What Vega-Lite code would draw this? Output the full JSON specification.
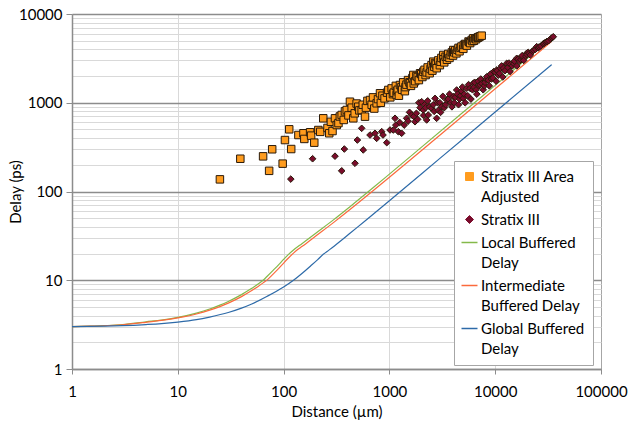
{
  "$schema": "https://vega.github.io/schema/vega-lite/v6.json",
  "width": 529,
  "height": 355,
  "autosize": {"type": "none"},
  "padding": {"left": 72, "top": 14, "right": 28, "bottom": 53},
  "background": "white",
  "config": {"font": "Lato", "view": {"stroke": null}},
  "datasets": {
    "lines": [
      {"s":"lb","x":1,"y":3.0},{"s":"lb","x":1.5,"y":3.04},{"s":"lb","x":2,"y":3.08},{"s":"lb","x":3,"y":3.16},{"s":"lb","x":5,"y":3.4},{"s":"lb","x":7,"y":3.56},{"s":"lb","x":10,"y":3.82},{"s":"lb","x":15,"y":4.27},{"s":"lb","x":20,"y":4.74},{"s":"lb","x":25,"y":5.24},{"s":"lb","x":30,"y":5.77},{"s":"lb","x":40,"y":6.89},{"s":"lb","x":50,"y":8.11},{"s":"lb","x":57,"y":9.0},{"s":"lb","x":64,"y":10},{"s":"lb","x":70,"y":11.1},{"s":"lb","x":80,"y":13.0},{"s":"lb","x":90,"y":15.0},{"s":"lb","x":100,"y":17.2},{"s":"lb","x":110,"y":19.3},{"s":"lb","x":124,"y":21.9},{"s":"lb","x":150,"y":26.0},{"s":"lb","x":200,"y":33.7},{"s":"lb","x":300,"y":48.5},{"s":"lb","x":424,"y":67.4},{"s":"lb","x":700,"y":110},{"s":"lb","x":1000,"y":157},{"s":"lb","x":2000,"y":314},{"s":"lb","x":5000,"y":785},{"s":"lb","x":10000,"y":1570},{"s":"lb","x":20000,"y":3140},{"s":"lb","x":34000,"y":5340},
      {"s":"ib","x":1,"y":3.0},{"s":"ib","x":1.5,"y":3.04},{"s":"ib","x":2,"y":3.07},{"s":"ib","x":3,"y":3.15},{"s":"ib","x":5,"y":3.36},{"s":"ib","x":7,"y":3.53},{"s":"ib","x":10,"y":3.77},{"s":"ib","x":15,"y":4.17},{"s":"ib","x":20,"y":4.6},{"s":"ib","x":25,"y":5.05},{"s":"ib","x":30,"y":5.53},{"s":"ib","x":40,"y":6.54},{"s":"ib","x":50,"y":7.65},{"s":"ib","x":57,"y":8.47},{"s":"ib","x":64,"y":9.34},{"s":"ib","x":70,"y":10.1},{"s":"ib","x":80,"y":11.8},{"s":"ib","x":90,"y":13.6},{"s":"ib","x":100,"y":15.6},{"s":"ib","x":110,"y":17.6},{"s":"ib","x":124,"y":20.2},{"s":"ib","x":134,"y":21.9},{"s":"ib","x":150,"y":24.1},{"s":"ib","x":200,"y":31.3},{"s":"ib","x":300,"y":45.2},{"s":"ib","x":424,"y":62.6},{"s":"ib","x":700,"y":101.8},{"s":"ib","x":1000,"y":145},{"s":"ib","x":2000,"y":288},{"s":"ib","x":5000,"y":718},{"s":"ib","x":10000,"y":1437},{"s":"ib","x":20000,"y":2874},{"s":"ib","x":34000,"y":4886},
      {"s":"gb","x":1,"y":3.0},{"s":"gb","x":2,"y":3.04},{"s":"gb","x":3,"y":3.08},{"s":"gb","x":5,"y":3.17},{"s":"gb","x":7,"y":3.25},{"s":"gb","x":10,"y":3.38},{"s":"gb","x":15,"y":3.6},{"s":"gb","x":20,"y":3.85},{"s":"gb","x":30,"y":4.33},{"s":"gb","x":40,"y":4.85},{"s":"gb","x":50,"y":5.4},{"s":"gb","x":70,"y":6.6},{"s":"gb","x":100,"y":8.4},{"s":"gb","x":124,"y":10},{"s":"gb","x":150,"y":12.0},{"s":"gb","x":180,"y":14.5},{"s":"gb","x":210,"y":17.1},{"s":"gb","x":237,"y":19.6},{"s":"gb","x":270,"y":22.0},{"s":"gb","x":300,"y":24.2},{"s":"gb","x":350,"y":28.0},{"s":"gb","x":424,"y":33.8},{"s":"gb","x":600,"y":47.5},{"s":"gb","x":1000,"y":78.6},{"s":"gb","x":3000,"y":236},{"s":"gb","x":10000,"y":786},{"s":"gb","x":34200,"y":2690}
    ],
    "points": [
      {"s":"sq","x":25,"y":137},{"s":"sq","x":39,"y":234},{"s":"sq","x":64,"y":249},{"s":"sq","x":73,"y":171},{"s":"sq","x":78,"y":299},{"s":"sq","x":98,"y":206},{"s":"sq","x":103,"y":380},{"s":"sq","x":113,"y":502},{"s":"sq","x":118,"y":301},{"s":"sq","x":138,"y":433},{"s":"sq","x":154,"y":453},{"s":"sq","x":157,"y":391},{"s":"sq","x":178,"y":465},{"s":"sq","x":182,"y":426},{"s":"sq","x":195,"y":355},{"s":"sq","x":213,"y":493},{"s":"sq","x":222,"y":470},{"s":"sq","x":237,"y":668},{"s":"sq","x":260,"y":520},{"s":"sq","x":270,"y":453},{"s":"sq","x":280,"y":610},{"s":"sq","x":290,"y":480},{"s":"sq","x":306,"y":668},{"s":"sq","x":318,"y":561},{"s":"sq","x":330,"y":590},{"s":"sq","x":340,"y":700},{"s":"sq","x":354,"y":728},{"s":"sq","x":370,"y":640},{"s":"sq","x":380,"y":800},{"s":"sq","x":395,"y":828},{"s":"sq","x":410,"y":720},{"s":"sq","x":424,"y":1027},{"s":"sq","x":440,"y":880},{"s":"sq","x":456,"y":668},{"s":"sq","x":470,"y":760},{"s":"sq","x":490,"y":980},{"s":"sq","x":508,"y":902},{"s":"sq","x":520,"y":820},{"s":"sq","x":547,"y":828},{"s":"sq","x":560,"y":950},{"s":"sq","x":588,"y":697},{"s":"sq","x":600,"y":880},{"s":"sq","x":620,"y":1050},{"s":"sq","x":656,"y":1074},{"s":"sq","x":680,"y":950},{"s":"sq","x":700,"y":1150},{"s":"sq","x":720,"y":860},{"s":"sq","x":758,"y":986},{"s":"sq","x":780,"y":1100},{"s":"sq","x":815,"y":1279},{"s":"sq","x":830,"y":1000},{"s":"sq","x":860,"y":1200},{"s":"sq","x":900,"y":1120},{"s":"sq","x":950,"y":1300},{"s":"sq","x":977,"y":1393},{"s":"sq","x":1020,"y":1150},{"s":"sq","x":1050,"y":1450},{"s":"sq","x":1080,"y":1250},{"s":"sq","x":1100,"y":1300},{"s":"sq","x":1150,"y":1550},{"s":"sq","x":1172,"y":1222},{"s":"sq","x":1180,"y":1350},{"s":"sq","x":1200,"y":1400},{"s":"sq","x":1230,"y":1200},{"s":"sq","x":1259,"y":1585},{"s":"sq","x":1300,"y":1500},{"s":"sq","x":1320,"y":1400},{"s":"sq","x":1350,"y":1700},{"s":"sq","x":1400,"y":1350},{"s":"sq","x":1420,"y":1500},{"s":"sq","x":1450,"y":1600},{"s":"sq","x":1500,"y":1800},{"s":"sq","x":1550,"y":1700},{"s":"sq","x":1566,"y":1656},{"s":"sq","x":1600,"y":1550},{"s":"sq","x":1650,"y":1900},{"s":"sq","x":1683,"y":2056},{"s":"sq","x":1700,"y":1650},{"s":"sq","x":1750,"y":1750},{"s":"sq","x":1800,"y":2000},{"s":"sq","x":1850,"y":1950},{"s":"sq","x":1900,"y":1800},{"s":"sq","x":1950,"y":2150},{"s":"sq","x":2000,"y":2100},{"s":"sq","x":2050,"y":1950},{"s":"sq","x":2091,"y":2240},{"s":"sq","x":2150,"y":2350},{"s":"sq","x":2200,"y":2050},{"s":"sq","x":2250,"y":2200},{"s":"sq","x":2300,"y":2500},{"s":"sq","x":2400,"y":2150},{"s":"sq","x":2450,"y":2400},{"s":"sq","x":2500,"y":2650},{"s":"sq","x":2550,"y":2300},{"s":"sq","x":2600,"y":2904},{"s":"sq","x":2650,"y":2550},{"s":"sq","x":2700,"y":2800},{"s":"sq","x":2750,"y":2700},{"s":"sq","x":2800,"y":2450},{"s":"sq","x":2900,"y":3000},{"s":"sq","x":3000,"y":2650},{"s":"sq","x":3050,"y":2900},{"s":"sq","x":3100,"y":3200},{"s":"sq","x":3230,"y":3453},{"s":"sq","x":3250,"y":3100},{"s":"sq","x":3300,"y":2850},{"s":"sq","x":3400,"y":3300},{"s":"sq","x":3500,"y":3050},{"s":"sq","x":3550,"y":3300},{"s":"sq","x":3600,"y":3550},{"s":"sq","x":3700,"y":3200},{"s":"sq","x":3800,"y":3450},{"s":"sq","x":3900,"y":3700},{"s":"sq","x":4000,"y":3400},{"s":"sq","x":4017,"y":3928},{"s":"sq","x":4100,"y":3700},{"s":"sq","x":4200,"y":3900},{"s":"sq","x":4300,"y":3600},{"s":"sq","x":4400,"y":3950},{"s":"sq","x":4500,"y":4150},{"s":"sq","x":4600,"y":3800},{"s":"sq","x":4700,"y":4150},{"s":"sq","x":4800,"y":4300},{"s":"sq","x":5000,"y":4050},{"s":"sq","x":5050,"y":4475},{"s":"sq","x":5200,"y":4600},{"s":"sq","x":5300,"y":4500},{"s":"sq","x":5400,"y":4400},{"s":"sq","x":5600,"y":4900},{"s":"sq","x":5700,"y":4800},{"s":"sq","x":5800,"y":4700},{"s":"sq","x":6000,"y":5100},{"s":"sq","x":6100,"y":4950},{"s":"sq","x":6212,"y":5322},{"s":"sq","x":6300,"y":5000},{"s":"sq","x":6500,"y":5300},{"s":"sq","x":6600,"y":5200},{"s":"sq","x":6800,"y":5400},{"s":"sq","x":6900,"y":5450},{"s":"sq","x":7000,"y":5500},{"s":"sq","x":7200,"y":5600},{"s":"sq","x":7450,"y":5700},
      {"s":"di","x":117,"y":138},{"s":"di","x":188,"y":234},{"s":"di","x":306,"y":250},{"s":"di","x":354,"y":171},{"s":"di","x":375,"y":301},{"s":"di","x":473,"y":208},{"s":"di","x":498,"y":380},{"s":"di","x":547,"y":515},{"s":"di","x":566,"y":294},{"s":"di","x":656,"y":433},{"s":"di","x":731,"y":453},{"s":"di","x":758,"y":397},{"s":"di","x":846,"y":472},{"s":"di","x":870,"y":433},{"s":"di","x":944,"y":355},{"s":"di","x":1014,"y":493},{"s":"di","x":1090,"y":493},{"s":"di","x":1130,"y":668},{"s":"di","x":1150,"y":560},{"s":"di","x":1214,"y":472},{"s":"di","x":1250,"y":600},{"s":"di","x":1306,"y":453},{"s":"di","x":1380,"y":560},{"s":"di","x":1456,"y":668},{"s":"di","x":1500,"y":620},{"s":"di","x":1550,"y":780},{"s":"di","x":1624,"y":728},{"s":"di","x":1700,"y":700},{"s":"di","x":1746,"y":611},{"s":"di","x":1800,"y":760},{"s":"di","x":1850,"y":650},{"s":"di","x":1900,"y":1000},{"s":"di","x":1950,"y":880},{"s":"di","x":2018,"y":1027},{"s":"di","x":2091,"y":828},{"s":"di","x":2100,"y":720},{"s":"di","x":2150,"y":950},{"s":"di","x":2200,"y":880},{"s":"di","x":2250,"y":640},{"s":"di","x":2300,"y":1050},{"s":"di","x":2328,"y":728},{"s":"di","x":2400,"y":900},{"s":"di","x":2506,"y":865},{"s":"di","x":2600,"y":950},{"s":"di","x":2650,"y":800},{"s":"di","x":2700,"y":1120},{"s":"di","x":2797,"y":668},{"s":"di","x":2850,"y":1000},{"s":"di","x":2900,"y":820},{"s":"di","x":3000,"y":1000},{"s":"di","x":3050,"y":780},{"s":"di","x":3120,"y":902},{"s":"di","x":3200,"y":1180},{"s":"di","x":3300,"y":880},{"s":"di","x":3400,"y":950},{"s":"di","x":3477,"y":1074},{"s":"di","x":3600,"y":1100},{"s":"di","x":3700,"y":1250},{"s":"di","x":3800,"y":1000},{"s":"di","x":3900,"y":900},{"s":"di","x":4017,"y":1172},{"s":"di","x":4100,"y":1000},{"s":"di","x":4200,"y":1150},{"s":"di","x":4325,"y":1393},{"s":"di","x":4400,"y":1250},{"s":"di","x":4500,"y":950},{"s":"di","x":4600,"y":1100},{"s":"di","x":4700,"y":1200},{"s":"di","x":4800,"y":1350},{"s":"di","x":4900,"y":1500},{"s":"di","x":5000,"y":1122},{"s":"di","x":5100,"y":1250},{"s":"di","x":5200,"y":1000},{"s":"di","x":5383,"y":1455},{"s":"di","x":5500,"y":1200},{"s":"di","x":5600,"y":1600},{"s":"di","x":5800,"y":1450},{"s":"di","x":5900,"y":1100},{"s":"di","x":6100,"y":1400},{"s":"di","x":6212,"y":1656},{"s":"di","x":6300,"y":1500},{"s":"di","x":6400,"y":1700},{"s":"di","x":6600,"y":1400},{"s":"di","x":6700,"y":1250},{"s":"di","x":6900,"y":1750},{"s":"di","x":7000,"y":1550},{"s":"di","x":7180,"y":1585},{"s":"di","x":7300,"y":1850},{"s":"di","x":7500,"y":1650},{"s":"di","x":7700,"y":1400},{"s":"di","x":7900,"y":1550},{"s":"di","x":8000,"y":1700},{"s":"di","x":8200,"y":1850},{"s":"di","x":8320,"y":1965},{"s":"di","x":8600,"y":1800},{"s":"di","x":8800,"y":1550},{"s":"di","x":9000,"y":2100},{"s":"di","x":9200,"y":1850},{"s":"di","x":9500,"y":1900},{"s":"di","x":9700,"y":2250},{"s":"di","x":10000,"y":2200},{"s":"di","x":10200,"y":1750},{"s":"di","x":10330,"y":2338},{"s":"di","x":10500,"y":2300},{"s":"di","x":10700,"y":2050},{"s":"di","x":11000,"y":2150},{"s":"di","x":11200,"y":2450},{"s":"di","x":11500,"y":2600},{"s":"di","x":11800,"y":1950},{"s":"di","x":12000,"y":2450},{"s":"di","x":12400,"y":2300},{"s":"di","x":12850,"y":2781},{"s":"di","x":13200,"y":2500},{"s":"di","x":13500,"y":2800},{"s":"di","x":13800,"y":2250},{"s":"di","x":14000,"y":2700},{"s":"di","x":14500,"y":2600},{"s":"di","x":15000,"y":2750},{"s":"di","x":15200,"y":2950},{"s":"di","x":15970,"y":3167},{"s":"di","x":16000,"y":2600},{"s":"di","x":16500,"y":3100},{"s":"di","x":17000,"y":2950},{"s":"di","x":17500,"y":3050},{"s":"di","x":17800,"y":3300},{"s":"di","x":18000,"y":3400},{"s":"di","x":18600,"y":3000},{"s":"di","x":19500,"y":3350},{"s":"di","x":19840,"y":3608},{"s":"di","x":20000,"y":3500},{"s":"di","x":20500,"y":3700},{"s":"di","x":21000,"y":3600},{"s":"di","x":21500,"y":3450},{"s":"di","x":22500,"y":3800},{"s":"di","x":23000,"y":3900},{"s":"di","x":24000,"y":4000},{"s":"di","x":24670,"y":4285},{"s":"di","x":25500,"y":4150},{"s":"di","x":26000,"y":4250},{"s":"di","x":27000,"y":4350},{"s":"di","x":28500,"y":4600},{"s":"di","x":29000,"y":4700},{"s":"di","x":30000,"y":4800},{"s":"di","x":30680,"y":4880},{"s":"di","x":31000,"y":4900},{"s":"di","x":32000,"y":5000},{"s":"di","x":33500,"y":5250},{"s":"di","x":34500,"y":5400},{"s":"di","x":35400,"y":5546}
    ]
  },
  "encoding": {
    "x": {
      "field": "x", "type": "quantitative",
      "scale": {"type": "log", "domain": [1, 100000], "nice": false},
      "axis": {
        "values": [1, 10, 100, 1000, 10000, 100000],
        "format": "d",
        "grid": true,
        "gridColor": {"condition": {"test": "datum.value >= 100000", "value": "#a6a6a6"}, "value": "#d9d9d9"},
        "gridWidth": 1,
        "domainColor": "#8c8c8c", "domainWidth": 1.5,
        "tickColor": "#8c8c8c", "tickSize": 5, "tickWidth": 1,
        "labelFontSize": 15, "labelColor": "#000", "labelPadding": 10, "labelFlush": false,
        "title": "Distance (µm)", "titleFontSize": 15, "titleFontWeight": "normal", "titleColor": "#000",
        "titleBaseline": "middle", "titleY": 42
      }
    },
    "y": {
      "field": "y", "type": "quantitative",
      "scale": {"type": "log", "domain": [1, 10000], "nice": false},
      "axis": {
        "values": [1,2,3,4,5,6,7,8,9,10,20,30,40,50,60,70,80,90,100,200,300,400,500,600,700,800,900,1000,2000,3000,4000,5000,6000,7000,8000,9000,10000],
        "labelExpr": "abs(log(datum.value)/LN10 - round(log(datum.value)/LN10)) < 0.000001 ? format(datum.value, 'd') : ''",
        "grid": true,
        "gridColor": {"condition": {"test": "abs(log(datum.value)/LN10 - round(log(datum.value)/LN10)) < 0.000001", "value": "#8c8c8c"}, "value": "#d9d9d9"},
        "gridWidth": {"condition": {"test": "abs(log(datum.value)/LN10 - round(log(datum.value)/LN10)) < 0.000001", "value": 1.5}, "value": 1},
        "tickOpacity": {"condition": {"test": "abs(log(datum.value)/LN10 - round(log(datum.value)/LN10)) < 0.000001", "value": 1}, "value": 0},
        "domainColor": "#8c8c8c", "domainWidth": 1.5,
        "tickColor": "#8c8c8c", "tickSize": 6,
        "labelFontSize": 15, "labelColor": "#000", "labelPadding": 4, "labelFlush": false,
        "title": "Delay (ps)", "titleFontSize": 15, "titleFontWeight": "normal", "titleColor": "#000",
        "titleBaseline": "middle", "titleX": -57, "titleY": 177.5
      }
    },
    "color": {
      "field": "s", "type": "nominal",
      "scale": {"domain": ["sq","di","lb","ib","gb"], "range": ["#ff9c1e","#7b0c2c","#84b94a","#fb6a3c","#2d6aa8"]},
      "legend": {
        "orient": "none", "legendX": 382, "legendY": 147,
        "title": null,
        "direction": "vertical",
        "strokeColor": "#a6a6a6", "fillColor": "white", "padding": 8,
        "labelFontSize": 15, "labelColor": "#000", "labelLimit": 200, "labelOffset": 4,
        "rowPadding": 7,
        "labelExpr": "datum.value == 'sq' ? ['Stratix III Area','Adjusted'] : datum.value == 'di' ? 'Stratix III' : datum.value == 'lb' ? ['Local Buffered','Delay'] : datum.value == 'ib' ? ['Intermediate','Buffered Delay'] : ['Global Buffered','Delay']",
        "encode": {
          "symbols": {"update": {
            "stroke": {"signal": "datum.value == 'sq' || datum.value == 'di' ? '#222' : scale('color', datum.value)"},
            "strokeWidth": {"signal": "datum.value == 'sq' || datum.value == 'di' ? 1 : 1.5"},
            "strokeOpacity": {"value": 1},
            "fill": {"signal": "scale('color', datum.value)"},
            "fillOpacity": {"value": 1},
            "size": {"signal": "datum.value == 'sq' || datum.value == 'di' ? 64 : 256"},
            "opacity": {"value": 1}
          }},
          "labels": {"update": {"lineHeight": {"value": 20}}}
        }
      }
    },
    "shape": {
      "field": "s", "type": "nominal",
      "scale": {"domain": ["sq","di","lb","ib","gb"], "range": ["square","diamond","stroke","stroke","stroke"]},
      "legend": null
    }
  },
  "layer": [
    {
      "data": {"name": "lines"},
      "mark": {"type": "line", "strokeWidth": 1.2, "interpolate": "monotone"},
      "encoding": {"shape": null, "detail": {"field": "s"}}
    },
    {
      "data": {"name": "points"},
      "mark": {"type": "point", "filled": true, "opacity": 1, "stroke": "#2a1a0a", "strokeWidth": 1},
      "encoding": {
        "size": {"condition": {"test": "datum.s == 'sq'", "value": 56}, "value": 44}
      }
    }
  ]
}
